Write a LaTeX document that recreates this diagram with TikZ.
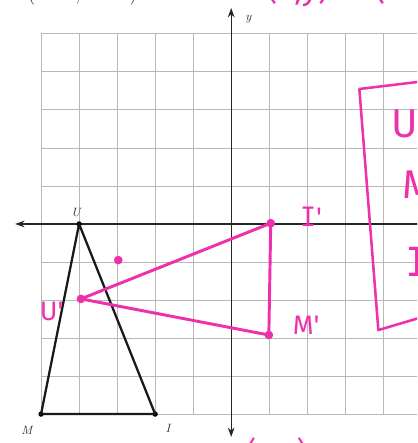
\documentclass[tikz,border=0pt]{standalone}
\usepackage{fontspec}
\newfontfamily\hand{Fira Sans}
\newfontfamily\handI{DejaVu Sans Mono}
\usetikzlibrary{arrows.meta}
\definecolor{pen}{RGB}{238,48,170}
\begin{document}
\begin{tikzpicture}[x=1cm,y=1cm,
  gridline/.style={black!28, line width=0.6pt},
  axisline/.style={black!85, line width=0.9pt, {Stealth[length=7pt,width=5pt]}-{Stealth[length=7pt,width=5pt]}},
  orig/.style={black!90, line width=1.7pt, line join=round},
  img/.style={pen, line width=2.2pt, line join=round, line cap=round},
  vdot/.style={circle, fill=#1, inner sep=0pt, minimum size=5pt},
  ptlabel/.style={font=\itshape\small, text=black!80, inner sep=0pt},
  penlabel/.style={text=pen, font=\hand\fontsize{20}{22}\selectfont, inner sep=0pt},
  boxtext/.style={text=pen, font=\hand\fontsize{30}{32}\selectfont, inner sep=0pt, anchor=west}]
\useasboundingbox (-6.08,-5.76) rectangle (4.89,5.89);
\clip (-6.08,-5.76) rectangle (4.89,5.89);
\fill[white] (-6.08,-5.76) rectangle (4.89,5.89);
% grid
\draw[gridline] (-5,-5) grid (5,5);
% axes
\coordinate (xl) at (-5.68,0);
\coordinate (xr) at (5.6,0);
\coordinate (yt) at (0,5.68);
\coordinate (yb) at (0,-5.6);
\draw[axisline] (xl) -- (xr);
\draw[axisline] (yb) -- (yt);
\node[ptlabel] (ylab) at (0.45,5.38) {y};
% original triangle
\node[vdot=black, minimum size=4pt] (U) at (-4,0) {};
\node[vdot=black, minimum size=4pt] (M) at (-5,-5) {};
\node[vdot=black, minimum size=4pt] (I) at (-2,-5) {};
\draw[orig] (U.center) -- (M.center) -- (I.center) -- cycle;
\node[ptlabel] (Ulab) at (-4.08,0.3) {U};
\node[ptlabel] (Mlab) at (-5.37,-5.42) {M};
\node[ptlabel] (Ilab) at (-1.66,-5.37) {I};
% image triangle
\node[vdot=pen, minimum size=6.5pt] (Up) at (-3.95,-1.97) {};
\node[vdot=pen, minimum size=6.5pt] (Ip) at (1.04,0.02) {};
\node[vdot=pen, minimum size=6.5pt] (Mp) at (0.99,-2.92) {};
\node[vdot=pen, minimum size=6.5pt] (extra) at (-2.97,-0.95) {};
\draw[img] (Up.center) -- (Ip.center) -- (Mp.center) -- cycle;
\node[penlabel] (Iplab) at (2.1,0.2) {{\handI I}'};
\node[penlabel] (Mplab) at (1.97,-2.66) {M'};
\node[penlabel] (Uplab) at (-4.72,-2.3) {U'};
% pink box
\coordinate (b1) at (4.95,3.74);
\coordinate (b2) at (3.37,3.55);
\coordinate (b3) at (3.87,-2.79);
\coordinate (b4) at (4.95,-2.47);
\draw[img, line width=1.9pt] (b1) -- (b2) -- (b3) -- (b4);
\node[boxtext] (bu) at (4.22,2.63) {U};
\node[boxtext] (bm) at (4.5,1.03) {M};
\node[boxtext, font=\handI\fontsize{30}{32}\selectfont] (bi) at (4.58,-1.0) {I};
% partial texts at top and bottom
\node[anchor=base west, inner sep=0pt, font=\fontsize{14}{16}\selectfont, text=black!85] (toptxt) at (-5.35,5.88) {(\hspace{1.05cm},\hspace{1.3cm})};
\node[anchor=base west, inner sep=0pt, text=pen, font=\hand\fontsize{26}{28}\selectfont] (pinktop) at (0.92,5.9) {(x,y)\,$\rightarrow$\,(};
\node[anchor=north west, inner sep=0pt, text=pen, font=\hand\fontsize{22}{24}\selectfont] (pinkbot) at (0.4,-5.6) {(x,\,y)};
\end{tikzpicture}
\end{document}
